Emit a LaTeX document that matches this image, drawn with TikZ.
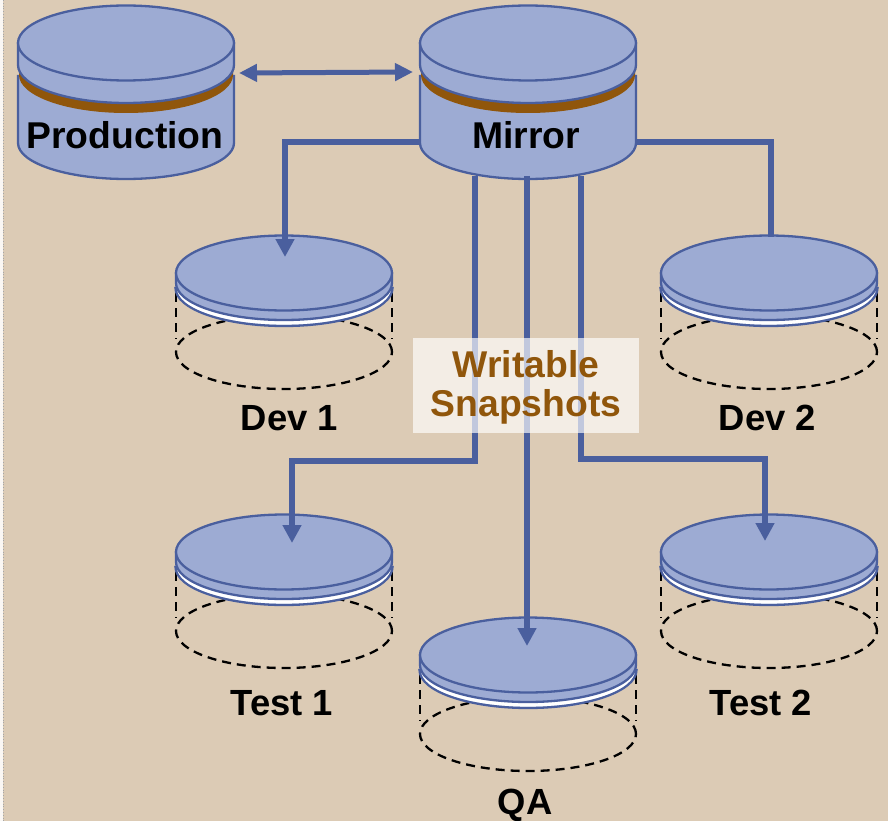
\documentclass[tikz,border=0pt]{standalone}
\usepackage{fontspec}
\setmainfont{Liberation Sans}
\usetikzlibrary{arrows.meta,shapes.geometric}
\definecolor{bgtan}{HTML}{DCCBB5}
\definecolor{diskfill}{HTML}{9DABD3}
\definecolor{diskline}{HTML}{4A5F9E}
\definecolor{ringbrown}{HTML}{90560B}
\tikzset{
  x=1pt,y=-1pt,
  diskedge/.style={draw=diskline,line width=2.3pt,fill=diskfill},
  topface/.style={ellipse,diskedge,minimum width=216pt,minimum height=75pt,inner sep=0pt},
  ghost/.style={draw=black,line width=2.3pt,dash pattern=on 9pt off 6pt},
  link/.style={draw=diskline,line width=6.5pt,line join=miter},
  arrowlink/.style={link,-{Triangle[width=18pt,length=18pt]}},
  label/.style={font=\fontsize{36.4}{36}\selectfont\bfseries,text=black,inner sep=0pt},
  disklabel/.style={font=\fontsize{37.3}{37}\selectfont\bfseries,text=black,inner sep=0pt},
  callout/.style={font=\fontsize{37.3}{39}\selectfont\bfseries,text=ringbrown,align=center,inner sep=0pt},
}
% #1 name, #2 x, #3 y of the top face
\newcommand{\solidDisk}[3]{%
  \begin{scope}[shift={(#2,#3)}]
    \path[diskedge] (-108,33) -- (-108,100) arc[start angle=180,end angle=360,x radius=108pt,y radius=36pt] -- (108,33) -- cycle;
    \fill[ringbrown] (-107,32) arc[start angle=180,end angle=360,x radius=107pt,y radius=38pt] -- (107,25) -- (-107,25) -- cycle;
    \path[diskedge] (-108,0) -- (-108,22) arc[start angle=180,end angle=360,x radius=108pt,y radius=38pt] -- (108,0) -- cycle;
    \node[topface] (#1) at (0,0) {};
  \end{scope}}
\newcommand{\snapDisk}[3]{%
  \begin{scope}[shift={(#2,#3)}]
    \draw[ghost] (-108,20) -- (-108,66);
    \draw[ghost] (108,20) -- (108,66);
    \node[ellipse,ghost,minimum width=216pt,minimum height=74pt,inner sep=0pt] (#1ghost) at (0,79) {};
    \path[diskedge] (-108.5,15) arc[start angle=180,end angle=360,x radius=108.5pt,y radius=38pt] -- cycle;
    \path[fill=white] (-107,15) arc[start angle=180,end angle=360,x radius=107pt,y radius=36.6pt] -- cycle;
    \path[diskedge] (-108,0) -- (-108,10) arc[start angle=180,end angle=360,x radius=108pt,y radius=37pt] -- (108,0) -- cycle;
    \node[topface] (#1) at (0,0) {};
  \end{scope}}
\begin{document}
\begin{tikzpicture}
\useasboundingbox (0,0) rectangle (888,821);
\fill[bgtan] (0,0) rectangle (888,821);
\fill[white!85!bgtan] (0,0) rectangle (3,821);
\draw[gray!70,line width=0.8pt,dotted] (3,0) -- (3,821);

\solidDisk{production}{126}{43}
\solidDisk{mirror}{528}{43}
\snapDisk{devone}{284}{273}
\snapDisk{devtwo}{769}{273}
\snapDisk{testone}{284}{552}
\snapDisk{testtwo}{769}{552}
\snapDisk{qa}{528}{655}

\coordinate (mirrorW) at (421,142);
\coordinate (mirrorE) at (636,142);
\coordinate (mirrorA) at (475,176);
\coordinate (mirrorB) at (527,176);
\coordinate (mirrorC) at (581,176);
\coordinate (devoneIn) at (285,257);
\coordinate (devtwoIn) at (771,237);
\coordinate (testoneIn) at (292,543);
\coordinate (testtwoIn) at (765,541);
\coordinate (qaIn) at (527,646);
\coordinate (prodOut) at (239,73);
\coordinate (mirrorIn) at (413,72);

\draw[diskline,line width=5pt,{Triangle[width=17pt,length=18pt]}-{Triangle[width=17pt,length=18pt]}] (prodOut) -- (mirrorIn);
\draw[arrowlink] (mirrorW) -| (devoneIn);
\draw[link] (mirrorE) -| (devtwoIn);
\draw[arrowlink] (mirrorA) |- (testoneIn |- 0,461) -- (testoneIn);
\draw[arrowlink] (mirrorB) -- (qaIn);
\draw[arrowlink] (mirrorC) |- (testtwoIn |- 0,459) -- (testtwoIn);

\node[fill=white,fill opacity=0.66,minimum width=226pt,minimum height=95pt,inner sep=0pt] (calloutbox) at (526,385.5) {};
\node[callout] (calloutText) at (526,387) {Writable\\Snapshots};

\node[disklabel] (prodLabel) at (125,135) {Production};
\node[disklabel] (mirrorLabel) at (526,135) {Mirror};
\node[label] (devoneLabel) at (289.5,418) {Dev 1};
\node[label] (devtwoLabel) at (767.5,418) {Dev 2};
\node[label] (testoneLabel) at (282,703) {Test 1};
\node[label] (testtwoLabel) at (761,703) {Test 2};
\node[label] (qaLabel) at (525,805) {QA};
\end{tikzpicture}
\end{document}
